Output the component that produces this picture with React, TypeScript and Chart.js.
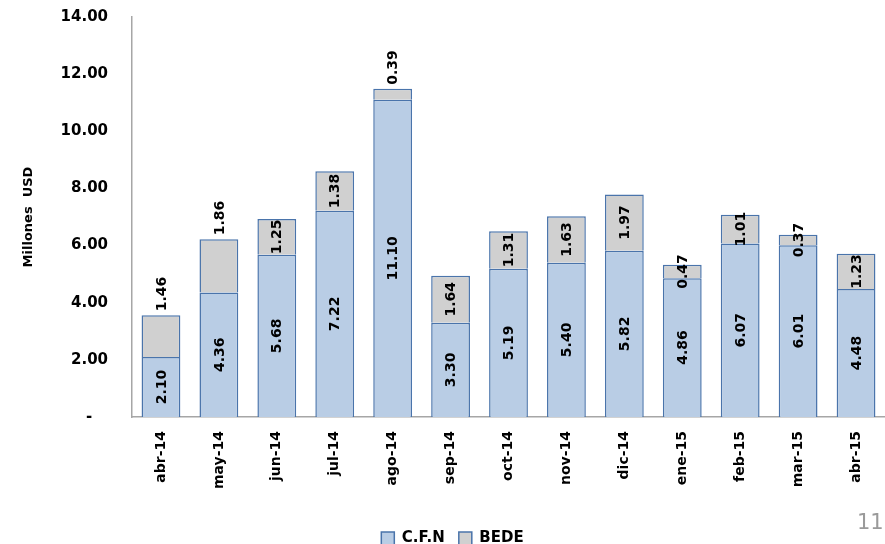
import React, { useEffect, useRef } from 'react';
import { Chart, registerables } from 'chart.js';

Chart.register(...registerables);

const categories = ['abr-14', 'may-14', 'jun-14', 'jul-14', 'ago-14', 'sep-14', 'oct-14', 'nov-14', 'dic-14', 'ene-15', 'feb-15', 'mar-15', 'abr-15'];
const cfnValues = [2.10, 4.36, 5.68, 7.22, 11.10, 3.30, 5.19, 5.40, 5.82, 4.86, 6.07, 6.01, 4.48];
const bedeValues = [1.46, 1.86, 1.25, 1.38, 0.39, 1.64, 1.31, 1.63, 1.97, 0.47, 1.01, 0.37, 1.23];
const seriesNames = ['C.F.N', 'BEDE'];
const bedeLabelsAbove = ['abr-14', 'may-14', 'ago-14'];
const yAxisTitle = 'Millones  USD';
const pageNumber = '11';

const FONT = '"DejaVu Sans", sans-serif';

const labelPlugin = {
  id: 'barLabels',
  afterDatasetsDraw(chart: any) {
    const ctx = chart.ctx;
    ctx.save();
    ctx.font = 'bold 14px ' + FONT;
    ctx.fillStyle = '#000';
    chart.data.datasets.forEach((ds: any, di: number) => {
      const meta = chart.getDatasetMeta(di);
      meta.data.forEach((bar: any, i: number) => {
        const { x, y, base } = bar.getProps(['x', 'y', 'base'], true);
        const txt = Number(ds.data[i]).toFixed(2);
        ctx.save();
        if (di === 1 && bedeLabelsAbove.includes(categories[i])) {
          ctx.translate(x, y - 4);
          ctx.rotate(-Math.PI / 2);
          ctx.textAlign = 'left';
          ctx.textBaseline = 'middle';
        } else {
          ctx.translate(x, (y + base) / 2);
          ctx.rotate(-Math.PI / 2);
          ctx.textAlign = 'center';
          ctx.textBaseline = 'middle';
        }
        ctx.fillText(txt, 0, 1);
        ctx.restore();
      });
    });
    ctx.restore();
  },
};

export default function App() {
  const ref = useRef<HTMLCanvasElement>(null);
  useEffect(() => {
    if (!ref.current) return;
    const chart = new Chart(ref.current, {
      type: 'bar',
      data: {
        labels: categories,
        datasets: [
          {
            label: seriesNames[0],
            data: cfnValues,
            backgroundColor: '#B9CDE5',
            borderColor: '#4A74AB',
            borderWidth: 1.5,
            barPercentage: 0.67,
            categoryPercentage: 1,
          },
          {
            label: seriesNames[1],
            data: bedeValues,
            backgroundColor: '#D0D0D0',
            borderColor: '#4A74AB',
            borderWidth: 1.5,
            barPercentage: 0.67,
            categoryPercentage: 1,
          },
        ],
      },
      options: {
        responsive: false,
        animation: false,
        layout: { padding: { left: 20, right: 0, top: 17, bottom: -12 } },
        plugins: {
          tooltip: { enabled: false },
          legend: {
            position: 'bottom',
            labels: {
              boxWidth: 13,
              boxHeight: 13,
              padding: 14,
              color: '#000',
              font: { family: FONT, size: 15, weight: 'bold' },
            },
          },
        },
        scales: {
          x: {
            stacked: true,
            grid: { display: false, drawTicks: false },
            border: { display: true, color: '#A6A6A6', width: 1.5 },
            ticks: {
              autoSkip: false,
              maxRotation: 90,
              minRotation: 90,
              padding: 14,
              color: '#000',
              font: { family: FONT, size: 14, weight: 'bold' },
            },
            afterFit: (s: any) => {
              s.height = 100;
              s.paddingLeft = 0;
              s.paddingRight = 0;
            },
          },
          y: {
            stacked: true,
            min: 0,
            max: 14,
            grid: { display: false, drawTicks: false },
            border: { display: true, color: '#A6A6A6', width: 1.5 },
            ticks: {
              stepSize: 2,
              padding: 24,
              color: '#000',
              font: { family: FONT, size: 15, weight: 'bold' },
              callback: (v: any) => (Number(v) === 0 ? '-   ' : Number(v).toFixed(2)),
            },
            title: {
              display: true,
              text: yAxisTitle,
              color: '#000',
              font: { family: FONT, size: 13, weight: 'bold' },
              padding: { top: 1, bottom: 0 },
            },
            afterFit: (s: any) => {
              s.width = 112;
              s.paddingTop = 0;
              s.paddingBottom = 0;
            },
          },
        },
      },
      plugins: [labelPlugin],
    });
    return () => chart.destroy();
  }, []);

  return (
    <div style={{ position: 'fixed', left: 0, top: 0, width: 885, height: 544, background: '#fff' }}>
      <canvas ref={ref} width={885} height={544} style={{ display: 'block' }} />
      <div
        style={{
          position: 'absolute',
          left: 857,
          top: 510,
          fontFamily: FONT,
          fontSize: 21,
          color: '#9A9A9A',
          lineHeight: '24px',
        }}
      >
        {pageNumber}
      </div>
    </div>
  );
}
